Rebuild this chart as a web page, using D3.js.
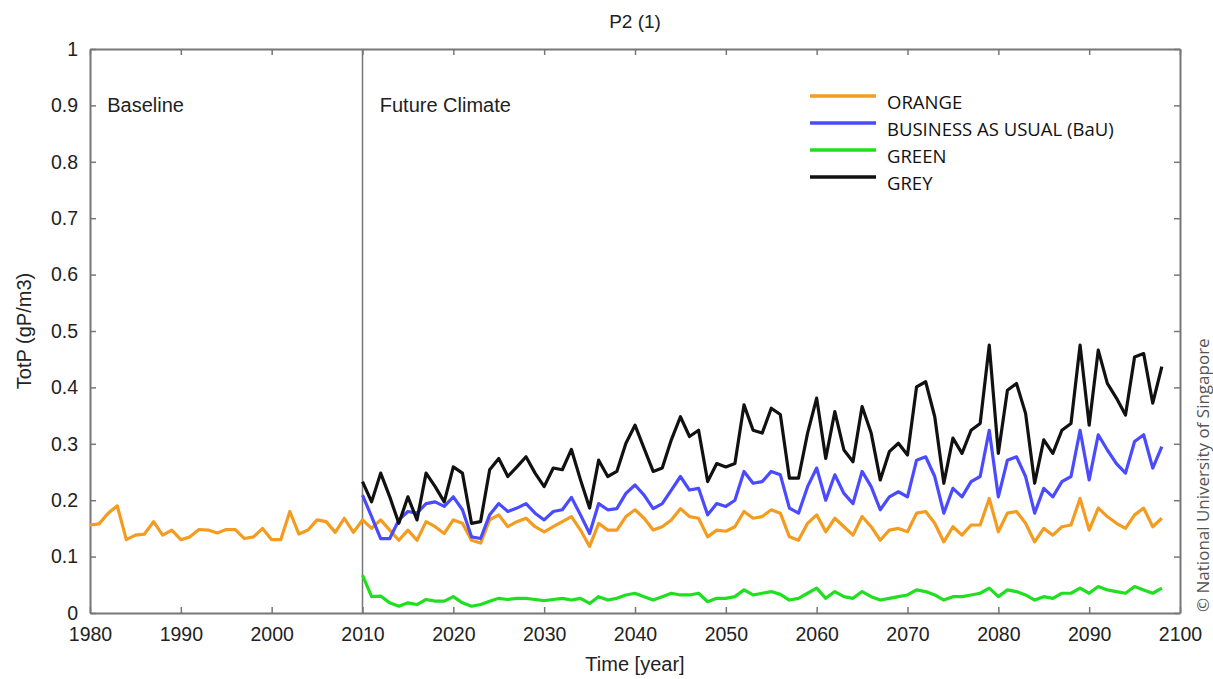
<!DOCTYPE html>
<html>
<head>
<meta charset="utf-8">
<script src="https://cdn.jsdelivr.net/npm/d3@7"></script>
<style>
  body { margin: 0; background: #fff; }
  svg { display: block; }
</style>
</head>
<body>
<div id="chart"></div>
<script>
// valeurs (TotP, gP/m3)
const baselineYears = d3.range(1980, 2010);
const futureYears = d3.range(2010, 2099);

const baselineOrange = [0.156, 0.158, 0.177, 0.19, 0.13, 0.138, 0.14, 0.162, 0.138, 0.147,
  0.13, 0.135, 0.148, 0.147, 0.142, 0.148, 0.148, 0.132, 0.135, 0.15,
  0.13, 0.13, 0.18, 0.14, 0.147, 0.165, 0.162, 0.143, 0.168, 0.143];

const orange = [0.165, 0.150, 0.165, 0.147, 0.129, 0.147, 0.129, 0.162, 0.153, 0.141,
  0.165, 0.159, 0.129, 0.124, 0.165, 0.174, 0.153, 0.162, 0.168, 0.153,
  0.144, 0.153, 0.162, 0.171, 0.147, 0.118, 0.159, 0.147, 0.147, 0.171,
  0.183, 0.168, 0.147, 0.153, 0.165, 0.185, 0.171, 0.168, 0.135, 0.147,
  0.145, 0.153, 0.180, 0.168, 0.171, 0.183, 0.177, 0.135, 0.129, 0.159,
  0.174, 0.144, 0.168, 0.153, 0.138, 0.171, 0.153, 0.129, 0.147, 0.150,
  0.144, 0.177, 0.180, 0.159, 0.126, 0.153, 0.138, 0.156, 0.156, 0.203,
  0.144, 0.177, 0.180, 0.159, 0.126, 0.150, 0.138, 0.153, 0.156, 0.203,
  0.147, 0.186, 0.171, 0.159, 0.150, 0.174, 0.186, 0.153, 0.168];

const bau = [0.209, 0.171, 0.132, 0.132, 0.165, 0.180, 0.177, 0.194, 0.197, 0.189,
  0.206, 0.183, 0.135, 0.132, 0.174, 0.194, 0.180, 0.186, 0.194, 0.177,
  0.165, 0.180, 0.183, 0.205, 0.174, 0.141, 0.194, 0.183, 0.185, 0.212,
  0.227, 0.209, 0.185, 0.194, 0.218, 0.242, 0.218, 0.221, 0.174, 0.194,
  0.189, 0.200, 0.251, 0.230, 0.233, 0.251, 0.245, 0.186, 0.177, 0.224,
  0.257, 0.200, 0.245, 0.212, 0.194, 0.251, 0.224, 0.183, 0.206, 0.215,
  0.206, 0.271, 0.277, 0.242, 0.177, 0.221, 0.206, 0.233, 0.242, 0.324,
  0.206, 0.271, 0.277, 0.242, 0.177, 0.221, 0.206, 0.233, 0.242, 0.324,
  0.236, 0.316, 0.289, 0.265, 0.248, 0.304, 0.316, 0.257, 0.295];

const green = [0.067, 0.029, 0.030, 0.018, 0.012, 0.018, 0.015, 0.024, 0.021, 0.021,
  0.029, 0.018, 0.012, 0.015, 0.021, 0.026, 0.024, 0.026, 0.026, 0.024,
  0.022, 0.024, 0.026, 0.023, 0.026, 0.017, 0.029, 0.023, 0.026, 0.032,
  0.035, 0.029, 0.023, 0.029, 0.035, 0.032, 0.032, 0.035, 0.020, 0.026,
  0.026, 0.029, 0.041, 0.032, 0.035, 0.038, 0.033, 0.023, 0.026, 0.035,
  0.044, 0.026, 0.038, 0.029, 0.026, 0.038, 0.029, 0.023, 0.026, 0.029,
  0.032, 0.041, 0.038, 0.032, 0.023, 0.029, 0.029, 0.032, 0.035, 0.044,
  0.029, 0.041, 0.038, 0.032, 0.023, 0.029, 0.026, 0.035, 0.035, 0.044,
  0.035, 0.047, 0.041, 0.038, 0.035, 0.047, 0.041, 0.035, 0.044];

const grey = [0.233, 0.197, 0.248, 0.206, 0.159, 0.206, 0.165, 0.248, 0.224, 0.197,
  0.259, 0.248, 0.159, 0.162, 0.254, 0.274, 0.242, 0.259, 0.277, 0.248,
  0.224, 0.257, 0.254, 0.290, 0.236, 0.186, 0.271, 0.242, 0.251, 0.301,
  0.333, 0.292, 0.251, 0.257, 0.307, 0.348, 0.313, 0.324, 0.233, 0.265,
  0.259, 0.265, 0.369, 0.324, 0.319, 0.363, 0.352, 0.239, 0.239, 0.319,
  0.381, 0.274, 0.357, 0.289, 0.268, 0.366, 0.319, 0.236, 0.286, 0.301,
  0.280, 0.401, 0.410, 0.348, 0.230, 0.310, 0.283, 0.324, 0.336, 0.475,
  0.283, 0.395, 0.407, 0.354, 0.230, 0.307, 0.283, 0.324, 0.336, 0.475,
  0.333, 0.466, 0.407, 0.381, 0.351, 0.454, 0.460, 0.372, 0.437];

const seriesNames = ["ORANGE", "BUSINESS AS USUAL (BaU)", "GREEN", "GREY"];
const seriesColors = ["#f39c1f", "#4a4aff", "#1fe01f", "#111111"];
const xTicks = d3.range(1980, 2101, 10);
const yTicks = d3.range(0, 11).map(d => d / 10);

const width = 1213, height = 679;
const margin = { top: 49, right: 33, bottom: 66, left: 90 };

const svg = d3.select("#chart").append("svg")
    .attr("width", width)
    .attr("height", height);

const x = d3.scaleLinear().domain([1980, 2100]).range([margin.left, width - margin.right]);
const y = d3.scaleLinear().domain([0, 1]).range([height - margin.bottom, margin.top]);

const axisColor = "#777";
const labelFont = "'Liberation Sans', Arial, sans-serif";

// axes (ticks vers l'intérieur, comme matlab)
const xAxis = svg.append("g")
    .attr("transform", "translate(0," + y(0) + ")")
    .call(d3.axisBottom(x).tickValues(xTicks).tickFormat(d3.format("d")).tickSizeInner(-6).tickSizeOuter(0).tickPadding(14));
const xAxisTop = svg.append("g")
    .attr("transform", "translate(0," + y(1) + ")")
    .call(d3.axisTop(x).tickValues(xTicks).tickFormat("").tickSizeInner(-6).tickSizeOuter(0));
const yAxis = svg.append("g")
    .attr("transform", "translate(" + x(1980) + ",0)")
    .call(d3.axisLeft(y).tickValues(yTicks).tickFormat(d => d === 0 || d === 1 ? d3.format("d")(d) : d3.format(".1f")(d)).tickSizeInner(-6).tickSizeOuter(0).tickPadding(12));
const yAxisRight = svg.append("g")
    .attr("transform", "translate(" + x(2100) + ",0)")
    .call(d3.axisRight(y).tickValues(yTicks).tickFormat("").tickSizeInner(-6).tickSizeOuter(0));

[xAxis, xAxisTop, yAxis, yAxisRight].forEach(function (g) {
    g.selectAll(".domain").attr("stroke", axisColor).attr("stroke-width", 2);
    g.selectAll(".tick line").attr("stroke", axisColor).attr("stroke-width", 1.5);
    g.selectAll(".tick text")
        .attr("fill", "#222")
        .style("font-family", labelFont)
        .style("font-size", "19.5px");
});

// séparation baseline / futur
svg.append("line")
    .attr("x1", x(2010)).attr("x2", x(2010))
    .attr("y1", y(1)).attr("y2", y(0))
    .attr("stroke", axisColor)
    .attr("stroke-width", 1.5);

const line = d3.line()
    .x(d => x(d[0]))
    .y(d => y(d[1]));

const orangeAll = baselineYears.map((yr, i) => [yr, baselineOrange[i]])
    .concat(futureYears.map((yr, i) => [yr, orange[i]]));

const futureSeries = [
    futureYears.map((yr, i) => [yr, green[i]]),
    orangeAll,
    futureYears.map((yr, i) => [yr, bau[i]]),
    futureYears.map((yr, i) => [yr, grey[i]])
];
const drawColors = [seriesColors[2], seriesColors[0], seriesColors[1], seriesColors[3]];

futureSeries.forEach(function (data, i) {
    svg.append("path")
        .datum(data)
        .attr("d", line)
        .attr("fill", "none")
        .attr("stroke", drawColors[i])
        .attr("stroke-width", 3.2)
        .attr("stroke-linejoin", "round");
});

// textes
svg.append("text")
    .attr("x", (x(1980) + x(2100)) / 2)
    .attr("y", 28)
    .attr("text-anchor", "middle")
    .style("font-family", labelFont)
    .style("font-size", "19px")
    .attr("fill", "#222")
    .text("P2 (1)");

svg.append("text")
    .attr("x", (x(1980) + x(2100)) / 2)
    .attr("y", 671)
    .attr("text-anchor", "middle")
    .style("font-family", labelFont)
    .style("font-size", "20px")
    .attr("fill", "#222")
    .text("Time [year]");

svg.append("text")
    .attr("transform", "translate(31," + y(0.5) + ") rotate(-90)")
    .attr("text-anchor", "middle")
    .style("font-family", labelFont)
    .style("font-size", "20px")
    .attr("fill", "#222")
    .text("TotP (gP/m3)");

svg.append("text")
    .attr("x", x(1981.9))
    .attr("y", y(0.9) + 7)
    .style("font-family", labelFont)
    .style("font-size", "20px")
    .attr("fill", "#222")
    .text("Baseline");

svg.append("text")
    .attr("x", x(2011.9))
    .attr("y", y(0.9) + 7)
    .style("font-family", labelFont)
    .style("font-size", "20px")
    .attr("fill", "#222")
    .text("Future Climate");

// légende
const legend = svg.append("g").attr("transform", "translate(810,96)");
seriesNames.forEach(function (name, i) {
    const row = legend.append("g").attr("transform", "translate(0," + (i * 27) + ")");
    row.append("line")
        .attr("x1", 0).attr("x2", 66)
        .attr("stroke", seriesColors[i])
        .attr("stroke-width", 3.5);
    row.append("text")
        .attr("x", 77)
        .attr("y", 13)
        .style("font-family", "'Open Sans', 'DejaVu Sans', sans-serif")
        .style("font-size", "18.5px")
        .attr("fill", "#111")
        .text(name);
});

// copyright
svg.append("text")
    .attr("transform", "translate(1209,612) rotate(-90)")
    .style("font-family", "'Open Sans', 'DejaVu Sans', sans-serif")
    .style("font-size", "17px")
    .attr("fill", "#555")
    .text("© National University of Singapore");
</script>
</body>
</html>
